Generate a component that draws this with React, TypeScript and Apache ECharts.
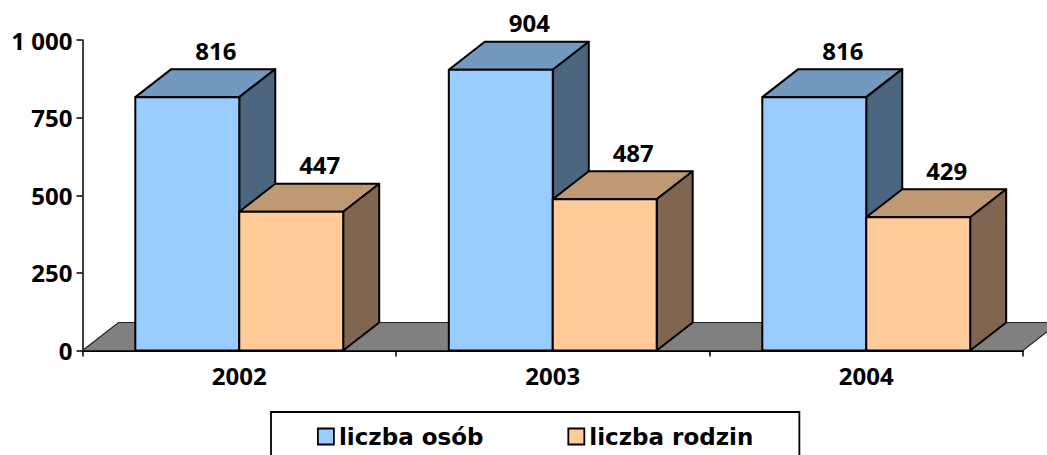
import React, { useEffect, useRef } from "react";
import * as echarts from "echarts";

const categories = ["2002", "2003", "2004"];
const seriesNames = ["liczba osób", "liczba rodzin"];
const osoby = [816, 904, 816];
const rodziny = [447, 487, 429];
const yTicks: Record<number, string> = { 0: "0", 250: "250", 500: "500", 750: "750", 1000: "1 000" };

const FONT = "'Noto Sans', sans-serif";
const DX = 36;
const DY = -28;
const BAR_RATIO = 104 / 313.67;

function barRender(offset: number, top: string, side: string) {
  return (_params: any, api: any) => {
    const value = api.value(1);
    const center = api.coord([api.value(0), 0]);
    const head = api.coord([api.value(0), value]);
    const w = api.size([1, 0])[0] * BAR_RATIO;
    const x0 = center[0] + offset * w;
    const x1 = x0 + w;
    const y0 = center[1];
    const y1 = head[1];
    const stroke = { stroke: "#000", lineWidth: 2, lineJoin: "round" };
    return {
      type: "group",
      children: [
        {
          type: "polygon",
          shape: { points: [[x0, y1], [x0 + DX, y1 + DY], [x1 + DX, y1 + DY], [x1, y1]] },
          style: { fill: top, ...stroke },
        },
        {
          type: "polygon",
          shape: { points: [[x1, y1], [x1 + DX, y1 + DY], [x1 + DX, y0 + DY], [x1, y0]] },
          style: { fill: side, ...stroke },
        },
        {
          type: "rect",
          shape: { x: x0, y: y1, width: w, height: y0 - y1 },
          style: { fill: api.visual("color"), ...stroke },
        },
        {
          type: "text",
          style: {
            text: String(value),
            x: (x0 + x1) / 2 + 28.5,
            y: y1 + DY - 19,
            align: "center",
            verticalAlign: "middle",
            fontFamily: FONT,
            fontWeight: "bold",
            fontSize: 24,
            fill: "#000",
          },
        },
      ],
    };
  };
}

function floorRender(params: any) {
  const { x, y, width, height } = params.coordSys;
  const b = y + height;
  return {
    type: "polygon",
    shape: {
      points: [[x, b], [x + DX, b + DY], [x + width + DX, b + DY], [x + width, b]],
    },
    style: { fill: "#808080", stroke: "#222", lineWidth: 1.2 },
  };
}

export default function App() {
  const ref = useRef<HTMLDivElement>(null);
  useEffect(() => {
    document.body.style.margin = "0";
    const chart = echarts.init(ref.current!, undefined, { renderer: "svg" });
    chart.setOption({
      animation: false,
      backgroundColor: "#fff",
      grid: { left: 82.5, right: 24, top: 40, bottom: 104.5 },
      legend: {
        data: seriesNames.map((name) => ({
          name,
          icon: "rect",
          itemStyle: { borderColor: "#000", borderWidth: 1.8 },
        })),
        left: 271,
        top: 412,
        orient: "horizontal",
        itemWidth: 16,
        itemHeight: 16,
        itemGap: 84,
        padding: [13, 46, 40, 46],
        borderColor: "#000",
        borderWidth: 1.8,
        textStyle: { fontFamily: "'DejaVu Sans', sans-serif", fontWeight: "bold", fontSize: 23, color: "#000" },
      },
      xAxis: {
        type: "category",
        data: categories,
        axisLine: { lineStyle: { color: "#000", width: 2 } },
        axisTick: { show: true, alignWithLabel: false, length: 6, lineStyle: { color: "#000", width: 1.5 } },
        axisLabel: { fontFamily: FONT, fontWeight: "bold", fontSize: 24, color: "#000", margin: 13 },
      },
      yAxis: {
        type: "value",
        min: 0,
        max: 1000,
        interval: 250,
        splitLine: { show: false },
        axisLine: { show: true, lineStyle: { color: "#000", width: 1.5 } },
        axisTick: { show: true, length: 6, lineStyle: { color: "#000", width: 1.5 } },
        axisLabel: {
          fontFamily: FONT,
          fontWeight: "bold",
          fontSize: 24,
          color: "#000",
          margin: 10,
          padding: [0, 0, 7, 0],
          formatter: (v: number) => yTicks[v],
        },
      },
      series: [
        { type: "custom", name: "floor", z: 1, silent: true, data: [[0, 0]], encode: { x: 0, y: 1 }, renderItem: floorRender, clip: false },
        {
          type: "custom",
          name: seriesNames[0],
          z: 2,
          itemStyle: { color: "#99CCFF" },
          data: osoby.map((v, i) => [i, v]),
          encode: { x: 0, y: 1 },
          renderItem: barRender(-1, "#7399BF", "#4D6680"),
          clip: false,
        },
        {
          type: "custom",
          name: seriesNames[1],
          z: 3,
          itemStyle: { color: "#FFCC99" },
          data: rodziny.map((v, i) => [i, v]),
          encode: { x: 0, y: 1 },
          renderItem: barRender(0, "#BF9973", "#806650"),
          clip: false,
        },
      ],
    });
    return () => chart.dispose();
  }, []);
  return <div ref={ref} style={{ width: 1047, height: 455 }} />;
}
